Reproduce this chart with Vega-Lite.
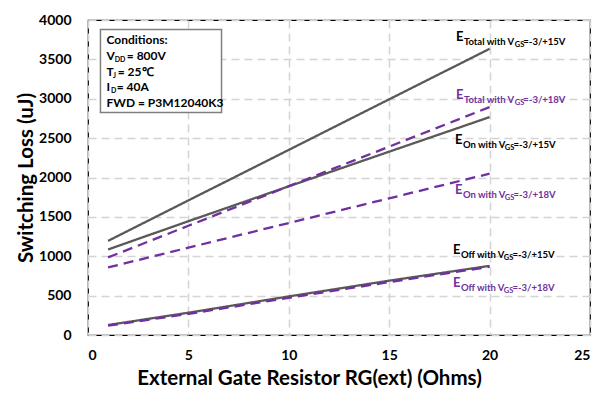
{
  "$schema": "https://vega.github.io/schema/vega-lite/v6.json",
  "width": 502,
  "height": 315,
  "autosize": "none",
  "padding": {"left": 88, "top": 20, "right": 19, "bottom": 62},
  "background": "white",
  "config": {
    "font": "Lato",
    "view": {"stroke": "#000000", "strokeWidth": 1.2},
    "axis": {
      "grid": true,
      "gridColor": "#d4d4d4",
      "gridDash": [8, 5],
      "gridWidth": 1.5,
      "domain": false,
      "ticks": false,
      "labelFont": "Lato",
      "labelFontWeight": "bold",
      "labelFontSize": 14,
      "labelColor": "#000000",
      "titleFont": "Lato",
      "titleFontWeight": "bold",
      "titleFontSize": 20.5,
      "titleColor": "#000000"
    }
  },
  "datasets": {
    "lines": [
      {"rg": 1, "loss": 1195, "series": "Total15"},
      {"rg": 5, "loss": 1709, "series": "Total15"},
      {"rg": 10, "loss": 2351, "series": "Total15"},
      {"rg": 15, "loss": 2993, "series": "Total15"},
      {"rg": 20, "loss": 3634, "series": "Total15"},
      {"rg": 1, "loss": 1086, "series": "On15"},
      {"rg": 5, "loss": 1445, "series": "On15"},
      {"rg": 10, "loss": 1888, "series": "On15"},
      {"rg": 15, "loss": 2328, "series": "On15"},
      {"rg": 20, "loss": 2767, "series": "On15"},
      {"rg": 1, "loss": 985, "series": "Total18"},
      {"rg": 5, "loss": 1387, "series": "Total18"},
      {"rg": 10, "loss": 1890, "series": "Total18"},
      {"rg": 15, "loss": 2392, "series": "Total18"},
      {"rg": 20, "loss": 2894, "series": "Total18"},
      {"rg": 1, "loss": 858, "series": "On18"},
      {"rg": 5, "loss": 1109, "series": "On18"},
      {"rg": 10, "loss": 1422, "series": "On18"},
      {"rg": 15, "loss": 1736, "series": "On18"},
      {"rg": 20, "loss": 2049, "series": "On18"},
      {"rg": 1, "loss": 127, "series": "Off15"},
      {"rg": 5, "loss": 283, "series": "Off15"},
      {"rg": 10, "loss": 490, "series": "Off15"},
      {"rg": 15, "loss": 690, "series": "Off15"},
      {"rg": 20, "loss": 878, "series": "Off15"},
      {"rg": 1, "loss": 118, "series": "Off18"},
      {"rg": 5, "loss": 268, "series": "Off18"},
      {"rg": 10, "loss": 472, "series": "Off18"},
      {"rg": 15, "loss": 672, "series": "Off18"},
      {"rg": 20, "loss": 866, "series": "Off18"}
    ],
    "box": [{"rg": 0.62, "rg2": 6.65, "loss": 2825, "loss2": 3880}],
    "condMain": [
      {"rg": 0.92, "loss": 3697, "t": "Conditions:"},
      {"rg": 0.92, "loss": 3494, "t": "V"},
      {"rg": 1.93, "loss": 3494, "t": "= 800V"},
      {"rg": 0.92, "loss": 3295, "t": "T"},
      {"rg": 1.48, "loss": 3295, "t": "= 25℃"},
      {"rg": 0.92, "loss": 3095, "t": "I"},
      {"rg": 1.43, "loss": 3095, "t": "= 40A"},
      {"rg": 0.92, "loss": 2895, "t": "FWD = P3M12040K3"}
    ],
    "condSub": [
      {"rg": 1.33, "loss": 3494, "t": "DD"},
      {"rg": 1.25, "loss": 3295, "t": "J"},
      {"rg": 1.15, "loss": 3095, "t": "D"}
    ],
    "labE": [
      {"rg": 18.33, "loss": 3739, "g": "15V"},
      {"rg": 18.33, "loss": 2995, "g": "18V"},
      {"rg": 18.28, "loss": 2421, "g": "15V"},
      {"rg": 18.28, "loss": 1787, "g": "18V"},
      {"rg": 18.18, "loss": 1027, "g": "15V"},
      {"rg": 18.18, "loss": 612, "g": "18V"}
    ],
    "labSub": [
      {"rg": 18.72, "loss": 3739, "g": "15V", "t": "Total with V"},
      {"rg": 18.72, "loss": 2995, "g": "18V", "t": "Total with V"},
      {"rg": 18.67, "loss": 2421, "g": "15V", "t": "On with V"},
      {"rg": 18.67, "loss": 1787, "g": "18V", "t": "On with V"},
      {"rg": 18.57, "loss": 1027, "g": "15V", "t": "Off with V"},
      {"rg": 18.57, "loss": 612, "g": "18V", "t": "Off with V"}
    ],
    "labGS": [
      {"rg": 21.25, "loss": 3739, "g": "15V"},
      {"rg": 21.25, "loss": 2995, "g": "18V"},
      {"rg": 20.76, "loss": 2421, "g": "15V"},
      {"rg": 20.76, "loss": 1787, "g": "18V"},
      {"rg": 20.71, "loss": 1027, "g": "15V"},
      {"rg": 20.71, "loss": 612, "g": "18V"}
    ],
    "labEq": [
      {"rg": 21.68, "loss": 3739, "g": "15V", "t": "=-3/+15V"},
      {"rg": 21.68, "loss": 2995, "g": "18V", "t": "=-3/+18V"},
      {"rg": 21.19, "loss": 2421, "g": "15V", "t": "=-3/+15V"},
      {"rg": 21.19, "loss": 1787, "g": "18V", "t": "=-3/+18V"},
      {"rg": 21.14, "loss": 1027, "g": "15V", "t": "=-3/+15V"},
      {"rg": 21.14, "loss": 612, "g": "18V", "t": "=-3/+18V"}
    ]
  },
  "encoding": {
    "x": {
      "field": "rg", "type": "quantitative",
      "scale": {"domain": [0, 25], "nice": false, "zero": false, "padding": 0},
      "axis": {"values": [0, 5, 10, 15, 20, 25], "labelPadding": 13, "titlePadding": 6, "titleX": 221, "title": "External Gate Resistor RG(ext) (Ohms)"}
    },
    "y": {
      "field": "loss", "type": "quantitative",
      "scale": {"domain": [0, 4000], "nice": false, "zero": false, "padding": 0},
      "axis": {"values": [0, 500, 1000, 1500, 2000, 2500, 3000, 3500, 4000], "format": "d", "labelPadding": 17, "titlePadding": 2, "title": "Switching Loss (uJ)"}
    }
  },
  "layer": [
    {
      "data": {"name": "lines"},
      "mark": {"type": "line", "strokeWidth": 2.3},
      "encoding": {
        "stroke": {
          "field": "series", "type": "nominal",
          "scale": {"domain": ["Total15", "On15", "Off15", "Total18", "On18", "Off18"], "range": ["#595959", "#595959", "#595959", "#7030a0", "#7030a0", "#7030a0"]},
          "legend": null
        },
        "strokeDash": {
          "field": "series", "type": "nominal",
          "scale": {"domain": ["Total15", "On15", "Off15", "Total18", "On18", "Off18"], "range": [[1, 0], [1, 0], [1, 0], [10, 6], [10, 6], [10, 6]]},
          "legend": null
        }
      }
    },
    {
      "data": {"name": "box"},
      "mark": {"type": "rect", "fill": "white", "stroke": "#7f7f7f", "strokeWidth": 1.5},
      "encoding": {
        "x2": {"field": "rg2"},
        "y2": {"field": "loss2"}
      }
    },
    {
      "data": {"name": "condMain"},
      "mark": {"type": "text", "align": "left", "baseline": "alphabetic", "fontSize": 12, "fontWeight": "bold", "fill": "#000000"},
      "encoding": {
        "text": {"field": "t"}
      }
    },
    {
      "data": {"name": "condSub"},
      "mark": {"type": "text", "align": "left", "baseline": "alphabetic", "fontSize": 7, "fontWeight": "bold", "dy": 2, "fill": "#000000"},
      "encoding": {
        "text": {"field": "t"}
      }
    },
    {
      "data": {"name": "labE"},
      "mark": {"type": "text", "align": "left", "baseline": "alphabetic", "fontSize": 13, "fontWeight": "bold", "text": "E"},
      "encoding": {
        "fill": {"field": "g", "type": "nominal", "scale": {"domain": ["15V", "18V"], "range": ["#000000", "#7030a0"]}, "legend": null}
      }
    },
    {
      "data": {"name": "labSub"},
      "mark": {"type": "text", "align": "left", "baseline": "alphabetic", "fontSize": 9.5, "fontWeight": "bold", "dy": 4},
      "encoding": {
        "text": {"field": "t"},
        "fill": {"field": "g", "type": "nominal", "scale": {"domain": ["15V", "18V"], "range": ["#000000", "#7030a0"]}, "legend": null}
      }
    },
    {
      "data": {"name": "labGS"},
      "mark": {"type": "text", "align": "left", "baseline": "alphabetic", "fontSize": 7.5, "fontWeight": "bold", "dy": 6, "text": "GS"},
      "encoding": {
        "fill": {"field": "g", "type": "nominal", "scale": {"domain": ["15V", "18V"], "range": ["#000000", "#7030a0"]}, "legend": null}
      }
    },
    {
      "data": {"name": "labEq"},
      "mark": {"type": "text", "align": "left", "baseline": "alphabetic", "fontSize": 9.5, "fontWeight": "bold", "dy": 4},
      "encoding": {
        "text": {"field": "t"},
        "fill": {"field": "g", "type": "nominal", "scale": {"domain": ["15V", "18V"], "range": ["#000000", "#7030a0"]}, "legend": null}
      }
    }
  ]
}
